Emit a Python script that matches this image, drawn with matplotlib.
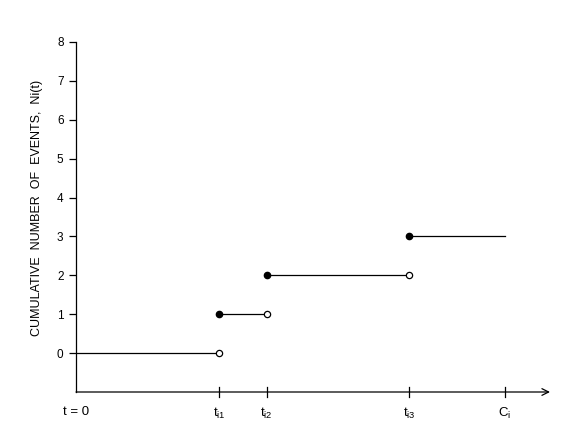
import matplotlib
matplotlib.use('Agg')
import matplotlib.pyplot as plt

# event times (t=0, t_i1, t_i2, t_i3, C_i) and counts
times = [0, 3, 4, 7, 9]
counts = [0, 1, 2, 3]
tick_labels = ['t = 0', '$\\mathregular{t_{i1}}$', '$\\mathregular{t_{i2}}$',
               '$\\mathregular{t_{i3}}$', '$\\mathregular{C_i}$']
y_ticks = [0, 1, 2, 3, 4, 5, 6, 7, 8]

plt.rcParams['font.family'] = ['Liberation Sans', 'DejaVu Sans']
plt.rcParams['mathtext.fontset'] = 'custom'
plt.rcParams['mathtext.rm'] = 'Liberation Sans'

fig = plt.figure(figsize=(5.78, 4.38), dpi=100)
ax = fig.add_axes([76 / 578, 46 / 438, 474 / 578, 350 / 438])
ax.set_xlim(0, 9.95)
ax.set_ylim(-1, 8)

# step segments
for k in range(len(counts)):
    ax.plot([times[k], times[k + 1]], [counts[k], counts[k]], color='black', lw=0.9)
# filled dots at jump, open dots at end of previous level
for k in range(1, len(counts)):
    ax.plot(times[k], counts[k], 'o', color='black', ms=4.5)
    ax.plot(times[k], counts[k - 1], 'o', mfc='white', mec='black', mew=0.9, ms=4.5)

for s in ['top', 'right', 'bottom']:
    ax.spines[s].set_visible(False)
ax.spines['left'].set_linewidth(0.9)

# x axis as arrow
ax.annotate('', xy=(9.95, -1), xytext=(0, -1),
            arrowprops=dict(arrowstyle='->', lw=0.9, color='black',
                            shrinkA=0, shrinkB=0, mutation_scale=12),
            annotation_clip=False)
for t in times[1:]:
    ax.plot([t, t], [-1.13, -0.87], color='black', lw=0.9, clip_on=False)

ax.set_yticks(y_ticks)
ax.tick_params(axis='y', direction='out', length=5, width=0.9, labelsize=8.5, pad=4)
ax.set_xticks(times)
ax.set_xticklabels(tick_labels)
ax.tick_params(axis='x', length=0, labelsize=9.5, pad=10)

ax.set_ylabel('CUMULATIVE  NUMBER  OF  EVENTS,  Ni(t)', fontsize=9)
ax.yaxis.set_label_coords(-0.07, 0.526)

fig.savefig('out.png', dpi=100)
